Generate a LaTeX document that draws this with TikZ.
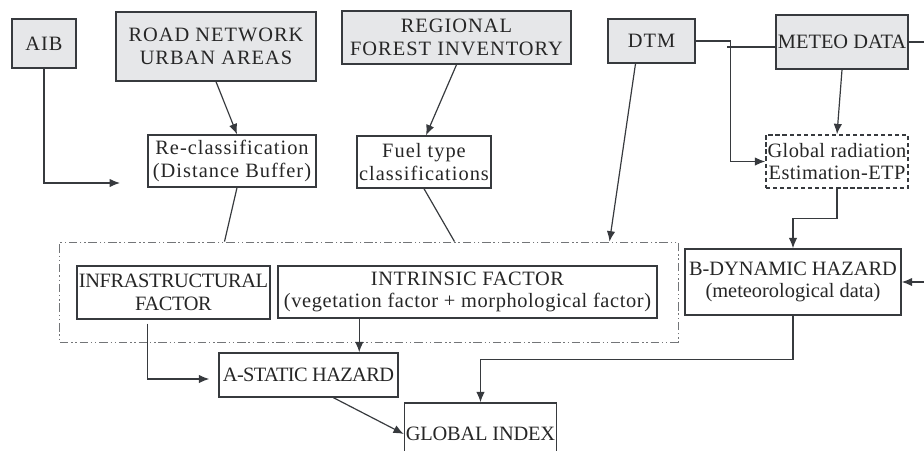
\documentclass[tikz,border=0pt]{standalone}
\usepackage{fontspec}
\setmainfont{Liberation Serif}
\usetikzlibrary{arrows.meta,calc}
\definecolor{srcfill}{RGB}{230,231,233}
\definecolor{linec}{RGB}{55,58,62}
\begin{document}
\begin{tikzpicture}[x=0.025cm, y=-0.025cm,
    spc/.style={font=\fontsize{14.5}{16}\selectfont\addfontfeatures{LetterSpace=#1}},
    every node/.style={spc=5, text=black!85},
    box/.style={draw=linec, line width=1pt, align=center, inner xsep=1pt, inner ysep=0pt},
    src/.style={box, fill=srcfill},
    link/.style={draw=linec, line width=0.85pt},
    arr/.style={link, -{Latex[length=2.6mm,width=2.1mm]}}]
    \useasboundingbox (0,0) rectangle (924,450);
    \clip (0,0) rectangle (924,450);

    \node[src, minimum width=1.6cm, minimum height=1.225cm] (aib) at (44,43.5) {AIB};
    \node[src, minimum width=5cm, minimum height=1.725cm] (road) at (216,46.5) {ROAD NETWORK\\URBAN AREAS};
    \node[src, minimum width=5.725cm, minimum height=1.325cm] (forest) at (456.5,37.5) {REGIONAL\\FOREST INVENTORY};
    \node[src, minimum width=2.175cm, minimum height=1.1cm] (dtm) at (651.5,41) {DTM};
    \node[src, spc=0, minimum width=3.3cm, minimum height=1.35cm, inner xsep=0pt] (meteo) at (842,42) {METEO DATA};

    \node[box, spc=2, dash pattern=on 3pt off 2pt, minimum width=3.55cm, minimum height=1.325cm] (radiation) at (837,161.5) {Global radiation\\Estimation-ETP};
    \node[box, minimum width=4.2cm, minimum height=1.3cm] (reclass) at (232,161) {Re-classification\\(Distance Buffer)};
    \node[box, minimum width=3.35cm, minimum height=1.3cm] (fuel) at (424,162) {Fuel type\\classifications};

    \node[draw=linec!70, line width=0.6pt, dash pattern=on 6pt off 2pt on 1pt off 2pt on 1pt off 2pt,
        minimum width=15.45cm, minimum height=2.5cm] (factors) at (369,292) {};
    \node[box, spc=-2, minimum width=4.825cm, minimum height=1.325cm] (infra) at (173.5,292.5) {INFRASTRUCTURAL\\FACTOR};
    \node[box, spc=3, minimum width=9.475cm, minimum height=1.3cm] (intrinsic) at (467.5,292) {INTRINSIC FACTOR\\(vegetation factor + morphological factor)};
    \node[box, spc=0, minimum width=5.4cm, minimum height=1.65cm] (dynamic) at (793,282) {B-DYNAMIC HAZARD\\(meteorological data)};
    \node[box, spc=-3, minimum width=4.475cm, minimum height=1.1cm] (static) at (308.5,375) {A-STATIC HAZARD};
    \node[box, spc=-1, minimum width=3.775cm, minimum height=1.55cm] (gindex) at (480.5,434) {GLOBAL INDEX};

    \coordinate (aibend) at (120,183);
    \coordinate (meteoout) at (930,42);
    \coordinate (dynin) at (930,282);
    \coordinate (intout) at ($(intrinsic.south west)+(82,0)$);
    \coordinate (infout) at ($(infra.south)+(-26,4)$);

    \draw[arr] (aib.south) |- (aibend);
    \draw[arr] (road.south) -- ($(reclass.north)+(5,0)$);
    \draw[arr] (forest.south) -- ($(fuel.north)+(2,0)$);
    \draw[link] ($(reclass.south)+(5,0)$) -- ($(factors.north west)+(165,0)$);
    \draw[link] (fuel.south) -- ($(factors.north west)+(395,0)$);
    \draw[arr] ($(dtm.south)+(-16,0)$) -- ($(factors.north west)+(550,0)$);
    \draw[arr] (dtm.east) -- ++(35,0) |- (radiation.west);
    \draw[link] ($(meteo.west)+(0,5)$) -- ++(-48,0);
    \draw[arr] (meteo.south) -- (radiation.north);
    \draw[link] (meteo.east) -- (meteoout);
    \draw[arr] (radiation.south) -- ++(0,30) -| (dynamic.north);
    \draw[arr] (dynin) -- (dynamic.east);
    \draw[arr] (dynamic.south) -- ++(0,44) -| (gindex.north);
    \draw[arr] (intout) -- (intout |- static.north);
    \draw[arr] (infout) |- ($(static.west)+(-9,4)$);
    \draw[arr] ($(static.south)+(25,0)$) -- (gindex.west);
\end{tikzpicture}
\end{document}
